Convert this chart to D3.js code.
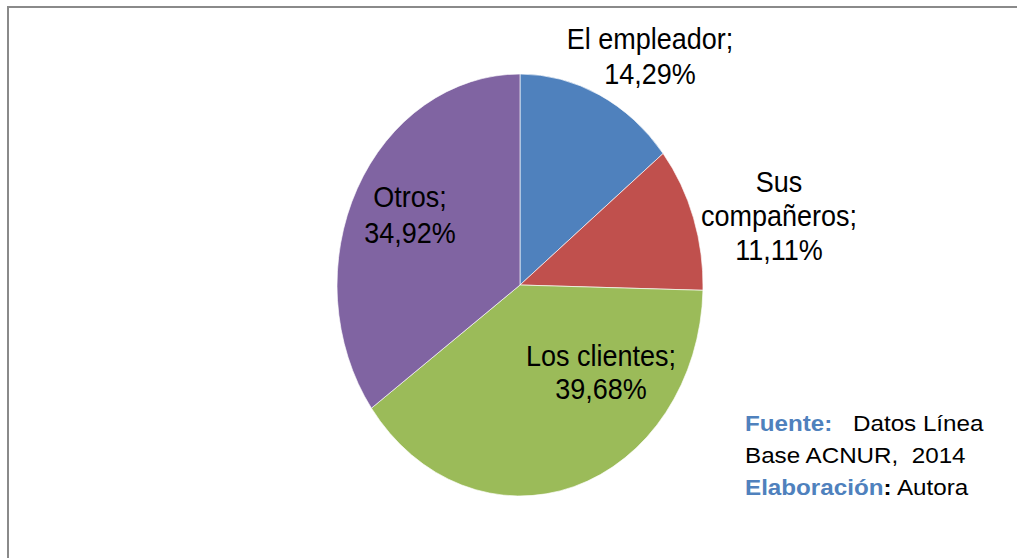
<!DOCTYPE html>
<html><head><meta charset="utf-8">
<script src="https://cdn.jsdelivr.net/npm/d3@7"></script>
<style>
html,body{margin:0;padding:0;background:#fff;}
svg{display:block;}
text{font-family:"Liberation Sans",Arial,sans-serif;}
</style></head>
<body>
<script>
const categories = ["El empleador", "Sus compañeros", "Los clientes", "Otros"];
const values = [14.29, 11.11, 39.68, 34.92];
const colors = ["#4F81BD", "#C0504D", "#9BBB59", "#8064A2"];
const labelLines = [["El empleador;", "14,29%"], ["Sus", "compañeros;", "11,11%"], ["Los clientes;", "39,68%"], ["Otros;", "34,92%"]];
const sourceLines = [
  [{t:"Fuente:", c:"#4F81BD", b:true}, {t:"Datos Línea", c:"#000", b:false, dx:108}],
  [{t:"Base ACNUR,\u00a0 2014", c:"#000", b:false}],
  [{t:"Elaboración", c:"#4F81BD", b:true}, {t:":", c:"#000", b:true}, {t:" Autora", c:"#000", b:false}]
];

const W = 1017, H = 558;
const svg = d3.select("body").append("svg").attr("width", W).attr("height", H);

// frame
svg.append("line").attr("x1", 7).attr("x2", W).attr("y1", 7).attr("y2", 7).attr("stroke", "#8a8a8a").attr("stroke-width", 2);
svg.append("line").attr("x1", 8).attr("x2", 8).attr("y1", 6).attr("y2", H).attr("stroke", "#8a8a8a").attr("stroke-width", 2);

const cx = 520, cy = 285, r = 183, sy = 211 / 183;
const pie = d3.pie().sort(null).value(d => d)(values);
const arc = d3.arc().innerRadius(0).outerRadius(r);

const g = svg.append("g").attr("transform", `translate(${cx},${cy}) scale(1,${sy})`);
g.selectAll("path").data(pie).join("path")
  .attr("d", arc)
  .attr("fill", (d, i) => colors[i])
  .attr("stroke", "#fff").attr("stroke-width", 0.6);

// label layout (text block anchor offsets from pie center: centre x, first baseline y, line gap)
const labelLayout = [
  {dx: 130, dy: -236, gap: 34.5},
  {dx: 259, dy: -93, gap: 34},
  {dx: 81, dy: 81, gap: 33},
  {dx: -110, dy: -78, gap: 36}
];
const lg = svg.append("g");
labelLines.forEach((lines, i) => {
  const L = labelLayout[i];
  lines.forEach((s, j) => {
    const by = cy + L.dy + j * L.gap;
    lg.append("text")
      .attr("transform", `translate(${cx + L.dx},${by}) scale(1,1.07)`)
      .attr("text-anchor", "middle")
      .attr("font-size", 27)
      .attr("fill", "#000")
      .text(s);
  });
});

// source note
const sx = 745, sy0 = 431, sgap = 32;
sourceLines.forEach((parts, i) => {
  const t = svg.append("text")
    .attr("transform", `translate(${sx},${sy0 + i * sgap}) scale(1.1,1.03)`)
    .attr("font-size", 22)
    .attr("xml:space", "preserve");
  parts.forEach((p) => {
    const ts = t.append("tspan").text(p.t)
      .attr("fill", p.c)
      .attr("font-weight", p.b ? "bold" : "normal");
    if (p.dx !== undefined) ts.attr("x", p.dx / 1.1);
  });
});
</script>
</body></html>
